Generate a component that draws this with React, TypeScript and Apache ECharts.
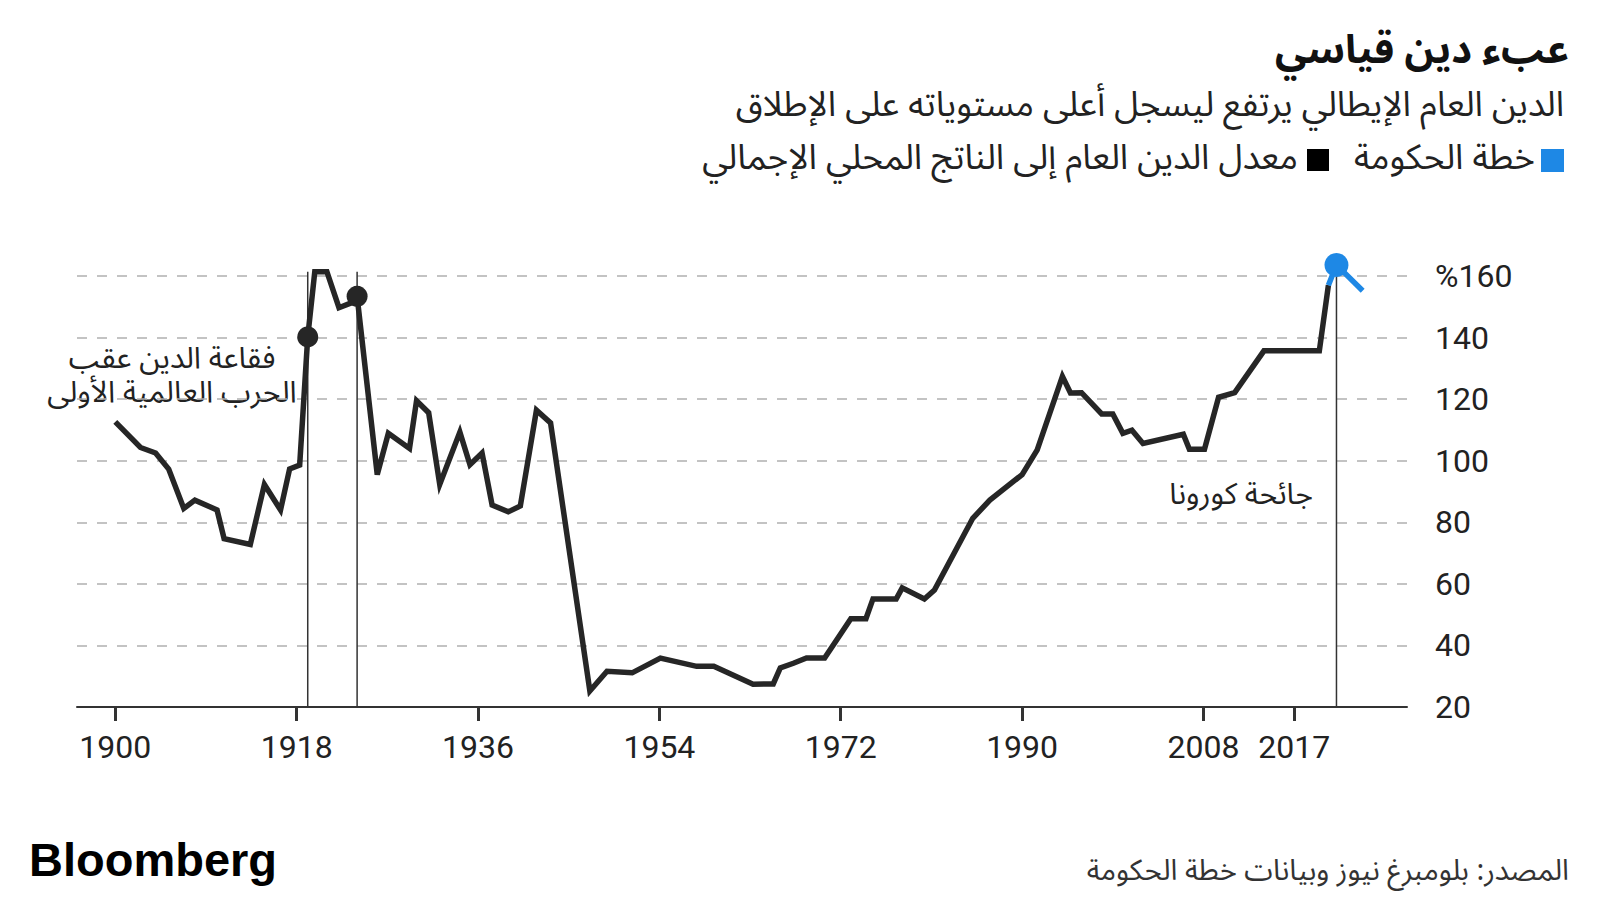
import React, { useEffect, useRef } from "react";
import * as echarts from "echarts";

// ---- Data ----
const debtYears = [
  1900.0, 1902.5, 1904.0, 1905.3, 1906.8, 1907.9, 1910.1, 1910.8, 1913.4, 1914.8,
  1916.4, 1917.3, 1918.3, 1919.1, 1919.8, 1921.0, 1922.2, 1923.6, 1924.0, 1926.0,
  1927.1, 1929.2, 1929.9, 1931.1, 1932.2, 1934.2, 1935.2, 1936.4, 1937.4, 1939.0,
  1940.2, 1941.8, 1943.2, 1947.1, 1948.8, 1951.3, 1954.1, 1957.7, 1959.4, 1963.3,
  1965.3, 1966.0, 1967.3, 1968.6, 1970.4, 1973.0, 1974.5, 1975.2, 1977.5, 1978.1,
  1980.3, 1981.3, 1985.1, 1986.8, 1990.0, 1991.5, 1994.0, 1994.8, 1995.9, 1997.9,
  1999.0, 2000.0, 2000.9, 2002.0, 2006.0, 2006.6, 2008.1, 2009.5, 2011.1, 2014.0,
  2019.5, 2020.4,
];
const debtValues = [
  112.6, 104.3, 102.5, 97.3, 84.5, 87.2, 84.0, 74.7, 72.8, 92.3,
  84.0, 97.3, 98.6, 140.2, 161.4, 161.4, 149.7, 151.5, 153.4, 95.5,
  108.9, 104.0, 119.5, 115.6, 92.3, 109.3, 98.7, 102.5, 85.6, 83.4,
  85.3, 116.4, 112.3, 25.2, 31.6, 31.1, 35.9, 33.2, 33.2, 27.4,
  27.5, 32.7, 34.2, 35.9, 35.9, 48.7, 48.7, 55.1, 55.1, 58.7,
  55.1, 58.0, 81.3, 87.2, 95.5, 103.5, 127.4, 122.0, 122.1, 115.2,
  115.2, 108.9, 109.9, 105.6, 108.6, 103.7, 103.7, 120.6, 122.1, 135.7,
  135.7, 157.0,
];
const planYears = [2020.4, 2021.2, 2023.8];
const planValues = [157.0, 163.6, 155.2];

const bubbleYears = [1919.1, 1924.0];
const bubbleValues = [140.2, 153.4];
const bubbleLineTop = 161.4;
const covidYear = 2021.2;
const covidValue = 163.6;

const xTickYears = [1900, 1918, 1936, 1954, 1972, 1990, 2008, 2017];
const yMin = 20;
const yMax = 160;
const yStep = 20;

// ---- Texts ----
const titleText = "عبء دين قياسي";
const subtitleText = "الدين العام الإيطالي يرتفع ليسجل أعلى مستوياته على الإطلاق";
const legendPlan = "خطة الحكومة";
const legendDebt = "معدل الدين العام إلى الناتج المحلي الإجمالي";
const wwiNoteLine1 = "فقاعة الدين عقب";
const wwiNoteLine2 = "الحرب العالمية الأولى";
const covidNote = "جائحة كورونا";
const sourceText = "المصدر: بلومبرغ نيوز وبيانات خطة الحكومة";

const AR = "'Noto Sans Arabic', 'DejaVu Sans', sans-serif";
const NUM = "Roboto, 'Liberation Sans', sans-serif";
const BLUE = "#1e88e5";
const INK = "#262626";

export default function App() {
  const ref = useRef<HTMLDivElement>(null);

  useEffect(() => {
    if (!ref.current) return;
    const chart = echarts.init(ref.current, null, { renderer: "svg" });

    const debtData = debtYears.map((y, i) => [y, debtValues[i]]);
    const planData = planYears.map((y, i) => [y, planValues[i]]);
    const bubbleData = bubbleYears.map((y, i) => [y, bubbleValues[i]]);

    const vLines = [
      ...bubbleYears.map((y) => [[y, yMin], [y, bubbleLineTop]]),
      [[covidYear, yMin], [covidYear, covidValue]],
    ];

    const arText = (text: string, x: number, y: number, size: number, align: string, extra: any = {}) => ({
      type: "text",
      x,
      y,
      style: {
        text,
        fill: extra.fill || "#222",
        font: `${extra.bold ? "bold " : ""}${size}px ${AR}`,
        lineHeight: Math.round(size * 1.05),
        textAlign: align,
        textVerticalAlign: "middle",
      },
    });

    const option: any = {
      animation: false,
      backgroundColor: "#ffffff",
      grid: { left: 77, right: 193, top: 276, bottom: 193, containLabel: false },
      xAxis: {
        type: "value",
        min: 1896.2,
        max: 2028.2,
        axisLine: { show: true, lineStyle: { color: "#333", width: 2 } },
        axisTick: {
          show: true,
          customValues: xTickYears,
          length: 14,
          lineStyle: { color: "#333", width: 3 },
        },
        axisLabel: {
          customValues: xTickYears,
          formatter: (v: number) => String(Math.round(v)),
          color: "#222",
          fontFamily: NUM,
          fontSize: 32,
          margin: 24,
        },
        splitLine: { show: false },
      },
      yAxis: {
        type: "value",
        position: "right",
        min: yMin,
        max: yMax,
        interval: yStep,
        axisLine: { show: false },
        axisTick: { show: false },
        axisLabel: {
          formatter: (v: number) => (v === yMax ? "%" + v : String(v)),
          color: "#222",
          fontFamily: NUM,
          fontSize: 32,
          margin: 28,
          align: "left",
        },
        splitLine: {
          show: true,
          lineStyle: { color: "#b0b0b0", width: 1.5, type: [10, 10] },
        },
      },
      series: [
        ...vLines.map((d) => ({
          type: "line",
          data: d,
          symbol: "none",
          clip: false,
          z: 1,
          lineStyle: { color: "#333", width: 1.5 },
          silent: true,
        })),
        {
          name: "debt",
          type: "line",
          data: debtData,
          symbol: "none",
          clip: false,
          z: 3,
          lineStyle: { color: INK, width: 5.5, join: "miter" },
        },
        {
          name: "plan",
          type: "line",
          data: planData,
          symbol: "none",
          clip: false,
          z: 4,
          lineStyle: { color: BLUE, width: 5.5 },
        },
        {
          type: "scatter",
          data: bubbleData,
          symbolSize: 21,
          clip: false,
          itemStyle: { color: INK, opacity: 1 },
          z: 5,
        },
        {
          type: "scatter",
          data: [[covidYear, covidValue]],
          symbolSize: 24,
          clip: false,
          itemStyle: { color: BLUE, opacity: 1 },
          z: 6,
        },
      ],
      graphic: [
        arText(titleText, 1569, 50, 40, "right", { bold: true, fill: "#111" }),
        arText(subtitleText, 1564, 105, 35, "right"),
        { type: "rect", shape: { x: 1541, y: 149, width: 23, height: 23 }, style: { fill: BLUE } },
        arText(legendPlan, 1535, 158, 35, "right"),
        { type: "rect", shape: { x: 1307, y: 149, width: 22, height: 22 }, style: { fill: "#000" } },
        arText(legendDebt, 1298, 158, 35, "right"),
        arText(wwiNoteLine1, 172, 358, 30, "center"),
        arText(wwiNoteLine2, 172, 392, 30, "center"),
        arText(covidNote, 1313, 494, 30, "right"),
        arText(sourceText, 1569, 870, 29, "right", { fill: "#333" }),
        {
          type: "text",
          x: 29,
          y: 859,
          style: {
            text: "Bloomberg",
            fill: "#000",
            font: `bold 47px 'Liberation Sans', Arial, sans-serif`,
            textAlign: "left",
            textVerticalAlign: "middle",
          },
        },
      ],
    };

    chart.setOption(option);
    return () => chart.dispose();
  }, []);

  return (
    <div
      ref={ref}
      style={{ position: "fixed", left: 0, top: 0, width: 1600, height: 900, background: "#fff" }}
    />
  );
}
